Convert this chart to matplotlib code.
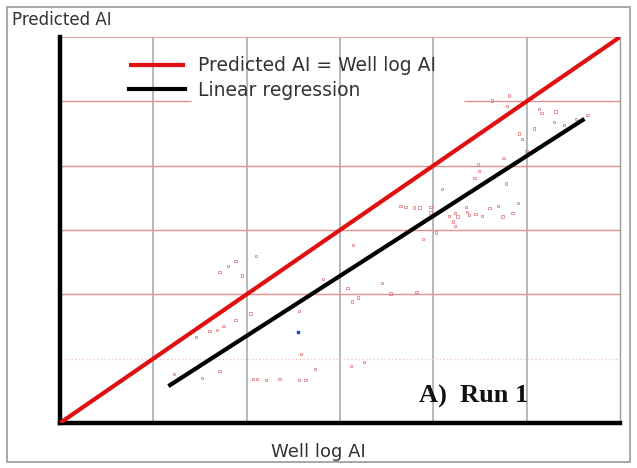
import matplotlib.pyplot as plt
from matplotlib.patches import Rectangle

# well log AI vs predicted AI, in grid units (tick labels in the source are unreadable)
well_ai = [2.10, 1.88, 1.80, 1.71, 1.95, 2.04, 2.56, 1.88, 1.75, 1.68, 1.60, 1.46,
           2.58, 2.73, 1.22, 1.71, 1.52, 2.07, 2.11, 2.21, 2.35, 2.56, 2.63,
           4.63, 4.81, 4.79, 5.13, 5.16, 5.31, 5.29, 5.40, 5.53, 5.65, 5.08, 4.92,
           4.95, 5.00, 4.75, 4.48, 4.49, 4.44, 4.78, 4.09, 4.91, 3.65, 3.70, 3.79,
           3.85, 3.97, 3.97, 4.17, 4.23, 4.26, 4.35, 4.36, 4.38, 4.45, 4.52, 4.60,
           4.69, 4.74, 4.85, 4.23, 4.21, 4.03, 3.89, 3.14, 2.82, 3.08, 3.45, 3.82,
           3.13, 3.19, 3.12, 3.26, 3.54]
pred_ai = [2.60, 2.52, 2.44, 2.35, 2.29, 1.70, 1.74, 1.60, 1.51, 1.45, 1.43, 1.34,
           1.07, 0.84, 0.76, 0.81, 0.70, 0.68, 0.68, 0.67, 0.68, 0.67, 0.67,
           5.01, 5.09, 4.93, 4.88, 4.82, 4.84, 4.68, 4.63, 4.73, 4.79, 4.58, 4.50,
           4.41, 4.23, 4.12, 4.02, 3.92, 3.81, 3.72, 3.64, 3.42, 3.37, 3.36, 3.35,
           3.35, 3.36, 3.27, 3.22, 3.26, 3.21, 3.36, 3.28, 3.23, 3.25, 3.22, 3.34,
           3.37, 3.21, 3.26, 3.06, 3.13, 2.96, 2.86, 2.77, 2.24, 2.10, 2.18, 2.04,
           1.89, 1.95, 0.89, 0.95, 2.01]
blue_x = [2.55]
blue_y = [1.41]

one_to_one = [0, 6]
reg_x = [1.18, 5.60]
reg_y = [0.59, 4.71]

fig = plt.figure(figsize=(6.37, 4.68), dpi=100)
fig.patches.append(Rectangle((7 / 637, 6 / 468), 623 / 637, 455 / 468,
                             transform=fig.transFigure, fill=False,
                             edgecolor='#9a9a9a', linewidth=1.2))

ax = fig.add_axes([60 / 637, 45 / 468, 560 / 637, 386 / 468])
ax.set_xlim(0, 6)
ax.set_ylim(0, 6)

# grid
for gx in [1, 2, 3, 4, 5]:
    ax.axvline(gx, color='#b8b8b8', lw=1.4, zorder=1)
for gy in [2, 3, 4]:
    ax.axhline(gy, color='#e89090', lw=1.0, zorder=1)
ax.axhline(1, color='#f0c8c8', lw=1.0, ls=':', zorder=1)
ax.axhline(6, color='#e89090', lw=1.2, zorder=1)
ax.hlines(5, 0, 1.4, color='#e89090', lw=1.0, zorder=1)
ax.hlines(5, 4.33, 6, color='#e89090', lw=1.0, zorder=1)

ax.scatter(well_ai, pred_ai, s=3, marker='s', facecolor='none',
           edgecolor='#e07070', linewidth=0.5, zorder=2)
ax.scatter(blue_x, blue_y, s=3, marker='s', color='#2040d0', zorder=2)

ax.plot(one_to_one, one_to_one, color='#e01010', lw=3, zorder=3,
        label='Predicted AI = Well log AI', solid_capstyle='butt')
ax.plot(reg_x, reg_y, color='black', lw=3, zorder=3,
        label='Linear regression')

ax.spines['right'].set_color('#9a9a9a')
ax.spines['right'].set_linewidth(1.0)
ax.spines['top'].set_visible(False)
for side in ['left', 'bottom']:
    ax.spines[side].set_linewidth(3.2)
    ax.spines[side].set_color('black')
ax.set_xticks([])
ax.set_yticks([])

leg = ax.legend(loc='upper left', bbox_to_anchor=(0.11, 0.97), frameon=False,
                fontsize=13.5, handlelength=3.0, handletextpad=0.65,
                labelspacing=0.3, borderaxespad=0)
for t in leg.get_texts():
    t.set_color('#333333')

fig.text(12 / 637, 1 - 20 / 468, 'Predicted AI', fontsize=12, color='#333333',
         va='center', ha='left')
fig.text(318 / 637, 1 - 452 / 468, 'Well log AI', fontsize=13, color='#333333',
         va='center', ha='center')
ax.text(3.85, 0.42, 'A)  Run 1', fontsize=19, fontweight='bold',
        family='Liberation Serif', color='#111111', ha='left', va='center')

fig.savefig('out.png', dpi=100)
